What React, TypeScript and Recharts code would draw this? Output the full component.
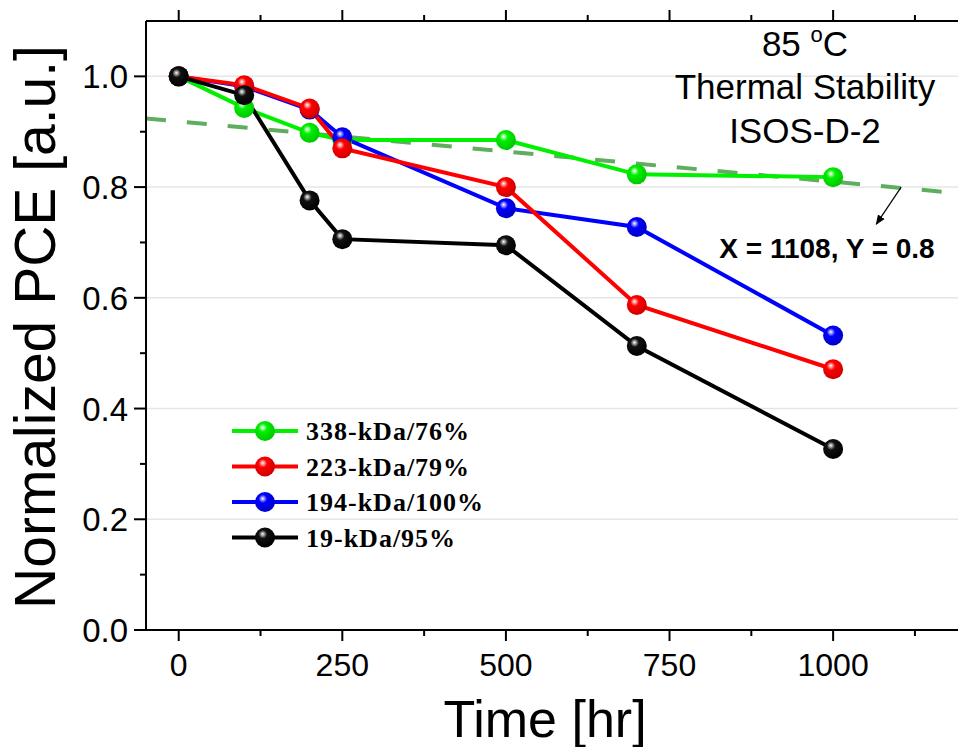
import React from "react";
import { LineChart, Line, XAxis, YAxis, ReferenceLine } from "recharts";

// aging time in hours
const times = [0, 100, 200, 250, 500, 700, 1000];

// normalized PCE for each device
const pce338 = [1.0, 0.943, 0.898, 0.885, 0.885, 0.823, 0.818];
const pce223 = [1.0, 0.984, 0.942, 0.87, 0.8, 0.587, 0.471];
const pce194 = [1.0, 0.982, 0.94, 0.89, 0.762, 0.728, 0.532];
const pce19 = [1.0, 0.966, 0.776, 0.706, 0.695, 0.513, 0.327];

const seriesNames = ["338-kDa/76%", "223-kDa/79%", "194-kDa/100%", "19-kDa/95%"];

const xTicks = [0, 125, 250, 375, 500, 625, 750, 875, 1000, 1125];
const yTicks = [0, 0.1, 0.2, 0.3, 0.4, 0.5, 0.6, 0.7, 0.8, 0.9, 1.0];
const gridValues = [0.2, 0.4, 0.6, 0.8, 1.0];

// dashed linear fit, endpoints at the axis limits
const fitLine = [
  { t: -50, y: 0.924 },
  { t: 1200, y: 0.788 },
];
// arrow pointing at the 0.8 crossing
const arrowLine = [
  { t: 1104, y: 0.8 },
  { t: 1066, y: 0.733 },
];

const data = times.map((t, i) => ({
  t,
  s338: pce338[i],
  s223: pce223[i],
  s194: pce194[i],
  s19: pce19[i],
}));

const series = [
  { key: "s338", name: seriesNames[0], color: "#00f000", ball: "ball-green" },
  { key: "s223", name: seriesNames[1], color: "#ff0000", ball: "ball-red" },
  { key: "s194", name: seriesNames[2], color: "#0000ff", ball: "ball-blue" },
  { key: "s19", name: seriesNames[3], color: "#000000", ball: "ball-black" },
];
// draw order in the figure: green, blue, red, black
const drawOrder = [0, 2, 1, 3];

const font = "'Liberation Sans', Arial, sans-serif";

const BottomTick = (props: any) => {
  const { x, y, payload } = props;
  const major = payload.value % 250 === 0;
  return (
    <g>
      <line x1={x} x2={x} y1={y} y2={y + (major ? 11 : 6)} stroke="#000" strokeWidth={2} />
      {major && (
        <text x={x} y={y + 46} textAnchor="middle" fontSize={32} fontFamily={font} fill="#000">
          {payload.value}
        </text>
      )}
    </g>
  );
};

const TopTick = (props: any) => {
  const { x, y, payload } = props;
  const major = payload.value % 250 === 0;
  return <line x1={x} x2={x} y1={y} y2={y - (major ? 11 : 6)} stroke="#000" strokeWidth={2} />;
};

const LeftTick = (props: any) => {
  const { x, y, payload } = props;
  const v = Math.round(payload.value * 10);
  const major = v % 2 === 0;
  return (
    <g>
      <line x1={x} x2={x - (major ? 12 : 6)} y1={y} y2={y} stroke="#000" strokeWidth={2} />
      {major && (
        <text x={x - 18} y={y + 12} textAnchor="end" fontSize={33} fontFamily={font} fill="#000">
          {(v / 10).toFixed(1)}
        </text>
      )}
    </g>
  );
};

const makeDot = (ball: string) => (props: any) => {
  const { cx, cy, index } = props;
  return <circle key={`${ball}-${index}`} cx={cx} cy={cy} r={10} fill={`url(#${ball})`} />;
};

const ballColors: Record<string, string[]> = {
  "ball-green": ["#ffffff", "#00f000", "#00c800"],
  "ball-red": ["#ffffff", "#ff0000", "#d00000"],
  "ball-blue": ["#ffffff", "#0000ff", "#0000c8"],
  "ball-black": ["#ffffff", "#111111", "#000000"],
};

const App = () => {
  return (
    <div
      style={{
        position: "absolute",
        left: 0,
        top: 0,
        width: 958,
        height: 747,
        overflow: "hidden",
        background: "#fff",
      }}
    >
      <svg width={0} height={0} style={{ position: "absolute" }}>
        <defs>
          {Object.entries(ballColors).map(([id, c]) => (
            <radialGradient key={id} id={id} cx="0.42" cy="0.38" r="0.6" fx="0.38" fy="0.32">
              <stop offset="0" stopColor={c[0]} />
              <stop offset="0.35" stopColor={c[1]} />
              <stop offset="1" stopColor={c[2]} />
            </radialGradient>
          ))}
          <marker id="arrowHead" markerWidth="10" markerHeight="10" refX="9" refY="5" orient="auto" markerUnits="userSpaceOnUse">
            <path d="M0,1 L10,5 L0,9 Z" fill="#000" />
          </marker>
        </defs>
      </svg>

      <LineChart width={970} height={747} data={data} margin={{ top: 0, right: 6, bottom: 0, left: 0 }}>
        <XAxis
          dataKey="t"
          type="number"
          domain={[-50, 1200]}
          ticks={xTicks}
          tick={<BottomTick />}
          tickLine={false}
          tickSize={0}
          tickMargin={0}
          height={117}
          axisLine={{ stroke: "#000", strokeWidth: 2 }}
          interval={0}
        />
        <XAxis
          xAxisId="top"
          orientation="top"
          dataKey="t"
          type="number"
          domain={[-50, 1200]}
          ticks={xTicks}
          tick={<TopTick />}
          tickLine={false}
          tickSize={0}
          tickMargin={0}
          height={21}
          axisLine={{ stroke: "#000", strokeWidth: 2 }}
          interval={0}
        />
        <YAxis
          type="number"
          domain={[0, 1.1]}
          ticks={yTicks}
          tick={<LeftTick />}
          tickLine={false}
          tickSize={0}
          tickMargin={0}
          width={146}
          axisLine={{ stroke: "#000", strokeWidth: 2 }}
          interval={0}
        />
        {gridValues.map((g) => (
          <ReferenceLine key={g} y={g} stroke="#e6e6e6" strokeWidth={1.5} />
        ))}
        <ReferenceLine
          segment={[
            { x: fitLine[0].t, y: fitLine[0].y },
            { x: fitLine[1].t, y: fitLine[1].y },
          ]}
          stroke="#5fad5f"
          strokeWidth={4}
          strokeDasharray="20 21"
          ifOverflow="visible"
        />
        <ReferenceLine
          segment={[
            { x: arrowLine[0].t, y: arrowLine[0].y },
            { x: arrowLine[1].t, y: arrowLine[1].y },
          ]}
          shape={(p: any) => (
            <line x1={p.x1} y1={p.y1} x2={p.x2} y2={p.y2} stroke="#000" strokeWidth={1.2} markerEnd="url(#arrowHead)" />
          )}
          ifOverflow="visible"
        />
        {drawOrder.map((i) => {
          const s = series[i];
          return (
            <Line
              key={s.key}
              dataKey={s.key}
              name={s.name}
              stroke={s.color}
              strokeWidth={4}
              type="linear"
              dot={makeDot(s.ball)}
              activeDot={false}
              isAnimationActive={false}
            />
          );
        })}
      </LineChart>

      <svg
        width={958}
        height={747}
        style={{ position: "absolute", left: 0, top: 0, pointerEvents: "none" }}
      >
        {/* axis titles */}
        <text
          x={55}
          y={327}
          transform="rotate(-90, 55, 327)"
          textAnchor="middle"
          fontSize={57}
          fontFamily={font}
          fill="#000"
        >
          Normalized PCE [a.u.]
        </text>
        <text x={545} y={737} textAnchor="middle" fontSize={52} fontFamily={font} fill="#000">
          Time [hr]
        </text>

        {/* condition note */}
        <text x={805} y={56} textAnchor="middle" fontSize={35} fontFamily={font} fill="#000">
          85 <tspan fontSize={22} dy={-14}>o</tspan>
          <tspan dy={14}>C</tspan>
        </text>
        <text x={805} y={99} textAnchor="middle" fontSize={35} fontFamily={font} fill="#000">
          Thermal Stability
        </text>
        <text x={805} y={143} textAnchor="middle" fontSize={35} fontFamily={font} fill="#000">
          ISOS-D-2
        </text>
        <text x={827} y={258} textAnchor="middle" fontSize={28} fontWeight="bold" fontFamily={font} fill="#000">
          X = 1108, Y = 0.8
        </text>

        {/* legend */}
        {series.map((s, i) => {
          const cy = 431 + i * 35.5;
          return (
            <g key={s.key}>
              <line x1={232} x2={298} y1={cy} y2={cy} stroke={s.color} strokeWidth={4} />
              <circle cx={265} cy={cy} r={10} fill={`url(#${s.ball})`} />
              <text
                x={306}
                y={cy + 9}
                fontSize={26}
                fontWeight="bold"
                letterSpacing={1}
                fontFamily="'Liberation Serif', 'Times New Roman', serif"
                fill="#000"
              >
                {s.name}
              </text>
            </g>
          );
        })}
      </svg>
    </div>
  );
};

export default App;
